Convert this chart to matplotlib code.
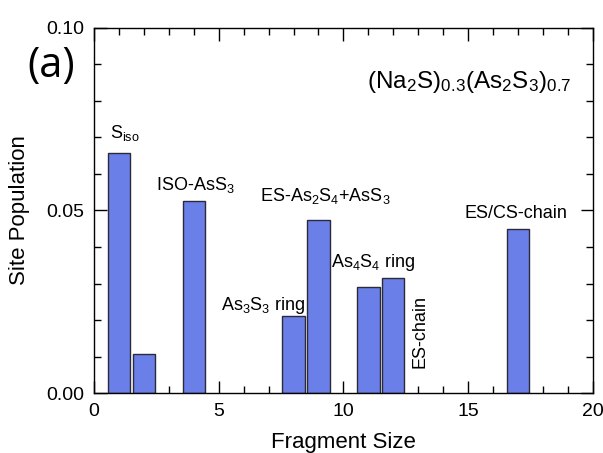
import matplotlib
matplotlib.use("Agg")
import matplotlib.pyplot as plt
from matplotlib.ticker import MultipleLocator, FormatStrFormatter

plt.rcParams['font.family'] = ['Liberation Sans', 'DejaVu Sans']
plt.rcParams['mathtext.fontset'] = 'custom'
plt.rcParams['mathtext.rm'] = 'Liberation Sans'
plt.rcParams['mathtext.it'] = 'Liberation Sans'

sizes = [1, 2, 4, 8, 9, 11, 12, 17]
population = [0.0658, 0.0107, 0.0527, 0.0211, 0.0475, 0.0290, 0.0316, 0.0449]

labels = [r"S$_{\mathrm{iso}}$", r"ISO-AsS$_3$", r"ES-As$_2$S$_4$+AsS$_3$",
          r"As$_3$S$_3$ ring", r"As$_4$S$_4$ ring", "ES/CS-chain"]
label_x = [1.22, 4.05, 9.29, 6.78, 11.2, 16.93]
label_y = [0.0698, 0.0556, 0.0526, 0.0228, 0.0345, 0.0479]

fig = plt.figure(figsize=(6.03, 4.53), dpi=100)
ax = fig.add_axes([0.156, 0.132, 0.827, 0.807])

ax.bar(sizes, population, width=0.9, color='#6b7fe8', edgecolor='#2a2a3a', linewidth=1.0, zorder=2)

for t, x, y in zip(labels, label_x, label_y):
    ax.text(x, y, t, ha='center', va='baseline', fontsize=13)

ax.text(13.07, 0.0168, "ES-chain", rotation=90, ha='center', va='center', fontsize=13)
ax.text(15.05, 0.0834, r"(Na$_2$S)$_{0.3}$(As$_2$S$_3$)$_{0.7}$", ha='center', va='baseline', fontsize=17.5)

fig.text(0.045, 0.855, "(a)", fontsize=30, family='Open Sans', ha='left', va='center')

ax.set_xlim(0, 20)
ax.set_ylim(0, 0.10)
ax.xaxis.set_major_locator(MultipleLocator(5))
ax.xaxis.set_minor_locator(MultipleLocator(1))
ax.yaxis.set_major_locator(MultipleLocator(0.05))
ax.yaxis.set_minor_locator(MultipleLocator(0.01))
ax.yaxis.set_major_formatter(FormatStrFormatter('%.2f'))
ax.tick_params(which='both', direction='in', top=True, right=True, labelsize=14, width=1.0)
ax.tick_params(which='major', length=9, pad=7)
ax.tick_params(which='minor', length=5)
for s in ax.spines.values():
    s.set_linewidth(1.0)

ax.set_xlabel("Fragment Size", fontsize=16, labelpad=9)
ax.set_ylabel("Site Population", fontsize=16, labelpad=12)

fig.savefig("out.png", dpi=100)
